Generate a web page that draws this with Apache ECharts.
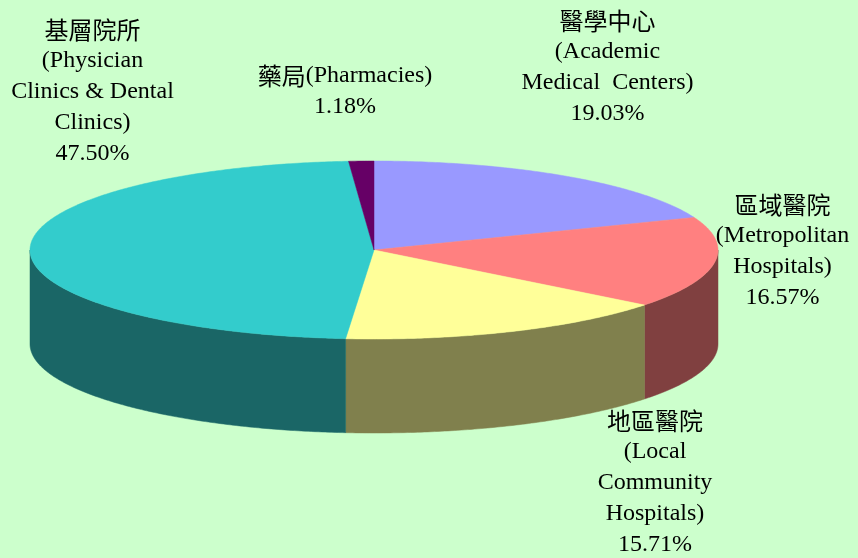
<!DOCTYPE html>
<html><head><meta charset="utf-8">
<style>html,body{margin:0;padding:0;background:#ccffcc}#c{width:858px;height:558px}</style>
<script src="https://cdn.jsdelivr.net/npm/echarts@6/dist/echarts.min.js"></script>
</head><body><div id="c"></div>
<script>
const categories = ['醫學中心','區域醫院','地區醫院','基層院所','藥局'];
const values = [19.03, 16.57, 15.71, 47.50, 1.18];
const topColors = ['#9999ff','#ff8080','#ffff99','#33cccc','#660066'];
const sideColors = ['#4d4d80','#804040','#80804d','#1a6666','#330033'];
const labelLines = [
  ['{c|醫學中心}','(Academic','Medical  Centers)','19.03%'],
  ['{c|區域醫院}','(Metropolitan','Hospitals)','16.57%'],
  ['{c|地區醫院}','(Local','Community','Hospitals)','15.71%'],
  ['{c|基層院所}','(Physician','Clinics & Dental','Clinics)','47.50%'],
  ['{c|藥局}(Pharmacies)','1.18%']
];
const labelAnchors = [[607.5,67],[782.5,251],[655,482.5],[92.5,92],[345,91]];

const CX=374, CY=250, RX=344, RY=89, DEPTH=94;
const total = values.reduce((a,b)=>a+b,0);
const slices = []; let acc = 0;
values.forEach((v,i)=>{ const a0=acc/total*2*Math.PI; acc+=v; slices.push({i,a0,a1:acc/total*2*Math.PI}); });
const pt=(a,dy)=>[CX+RX*Math.sin(a),CY-RY*Math.cos(a)+(dy||0)];
function arc(a0,a1,dy){ const n=Math.max(2,Math.ceil((a1-a0)/0.01)),p=[]; for(let k=0;k<=n;k++)p.push(pt(a0+(a1-a0)*k/n,dy)); return p; }

function renderSide(params){
  const s=slices[params.dataIndex];
  const lo=Math.max(s.a0,Math.PI/2), hi=Math.min(s.a1,Math.PI*1.5);
  if(hi<=lo) return {type:'group',children:[]};
  const upper=arc(lo,hi,0), lower=arc(lo,hi,DEPTH).reverse();
  return {type:'polygon',shape:{points:upper.concat(lower)},style:{fill:sideColors[s.i],stroke:sideColors[s.i],lineWidth:0.5}};
}
function renderTop(params){
  const s=slices[params.dataIndex];
  return {type:'polygon',shape:{points:[[CX,CY]].concat(arc(s.a0,s.a1,0))},style:{fill:topColors[s.i],stroke:topColors[s.i],lineWidth:0.5}};
}
const rows=values.map((v,i)=>({name:categories[i],value:[i,v]}));
const chart=echarts.init(document.getElementById('c'),null,{renderer:'canvas'});
const FONT="'Liberation Serif','Times New Roman',serif";
chart.setOption({
  backgroundColor:'#ccffcc',animation:false,
  graphic:labelLines.map((l,i)=>({type:'text',x:labelAnchors[i][0],y:labelAnchors[i][1],
    style:{text:l.join('\n'),align:'center',verticalAlign:'middle',fill:'#000',font:"24px "+FONT,lineHeight:31,
      rich:{c:{font:"24px 'Noto Sans CJK TC'",fill:'#000',lineHeight:31}}}})),
  series:[
    {type:'custom',coordinateSystem:'none',renderItem:renderSide,data:rows,silent:true},
    {type:'custom',coordinateSystem:'none',renderItem:renderTop,data:rows,silent:true}
  ]
});
</script></body></html>
